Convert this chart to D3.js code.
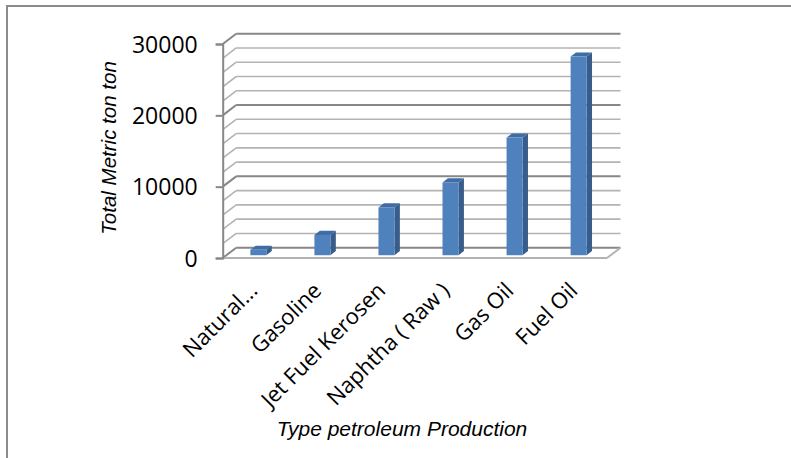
<!DOCTYPE html>
<html>
<head>
<meta charset="utf-8">
<script src="https://cdn.jsdelivr.net/npm/d3@7"></script>
<style>
  html, body { margin: 0; padding: 0; background: #fff; }
  svg { display: block; }
</style>
</head>
<body>
<svg id="chart" width="791" height="458"></svg>
<script>
// Petroleum production by product type (metric tons)
const categories = ["Natural...", "Gasoline", "Jet Fuel Kerosen", "Naphtha ( Raw )", "Gas Oil", "Fuel Oil"];
const values = [750, 2850, 6700, 10200, 16500, 27850];
const yTicks = [0, 10000, 20000, 30000];
const gridStep = 2000;
const yTitle = "Total Metric ton ton";
const xTitle = "Type petroleum Production";

const svg = d3.select("#chart");

// outer chart-area frame
svg.append("rect")
  .attr("x", 7).attr("y", 6).attr("width", 800).attr("height", 470)
  .attr("fill", "none").attr("stroke", "#8c8c8c").attr("stroke-width", 2);

// front plane scales
const x = d3.scaleBand().domain(categories).range([222.7, 607]);
const y = d3.scaleLinear().domain([0, 30000]).range([258, 44]);
// depth vector of the 3-D box (front -> back wall)
const DX = 13.5, DY = -10.3;

const grid = svg.append("g");
const gridVals = d3.range(0, 30000 + 1, gridStep);
const x0 = x.range()[0], x1 = x.range()[1];

// back wall gridlines + diagonals on the side wall
gridVals.forEach(v => {
  const major = v % 10000 === 0;
  const col = major ? "#878787" : "#b3b3b3";
  const w = major ? 2 : 1.6;
  grid.append("line")
    .attr("x1", x0 + DX).attr("x2", x1 + DX)
    .attr("y1", y(v) + DY).attr("y2", y(v) + DY)
    .attr("stroke", col).attr("stroke-width", w);
  grid.append("line")
    .attr("x1", x0).attr("y1", y(v))
    .attr("x2", x0 + DX).attr("y2", y(v) + DY)
    .attr("stroke", col).attr("stroke-width", w);
});

// floor outline: front edge and right diagonal
grid.append("line")
  .attr("x1", x0).attr("x2", x1).attr("y1", y(0)).attr("y2", y(0))
  .attr("stroke", "#b3b3b3").attr("stroke-width", 2);
grid.append("line")
  .attr("x1", x1).attr("y1", y(0)).attr("x2", x1 + DX).attr("y2", y(0) + DY)
  .attr("stroke", "#b3b3b3").attr("stroke-width", 2);

// value axis
const yAxis = d3.axisLeft(y).tickValues(yTicks).tickSize(7).tickPadding(18)
  .tickFormat(d3.format("d"));
const ya = svg.append("g").attr("transform", `translate(${x0},0)`).call(yAxis);
ya.select(".domain").attr("stroke", "#878787").attr("stroke-width", 2);
ya.selectAll(".tick line").attr("stroke", "#878787").attr("stroke-width", 2);
ya.selectAll(".tick text")
  .attr("font-family", "'Open Sans', sans-serif").attr("font-size", 23)
  .attr("fill", "#000").attr("dy", "0.36em");

// 3-D columns
const f = 0.27, depth = 0.4;
const bw = x.bandwidth() * 0.25;
const bars = svg.append("g");
categories.forEach((c, i) => {
  const cx = x(c) + x.bandwidth() / 2 + f * DX;
  const left = cx - bw / 2, right = cx + bw / 2;
  const base = y(0) + f * DY;
  const top = y(values[i]) + f * DY;
  const ddx = depth * DX, ddy = depth * DY;
  // side face
  bars.append("path")
    .attr("d", `M${right},${base}L${right + ddx},${base + ddy}L${right + ddx},${top + ddy}L${right},${top}Z`)
    .attr("fill", "#385d8a");
  // top face
  bars.append("path")
    .attr("d", `M${left},${top}L${left + ddx},${top + ddy}L${right + ddx},${top + ddy}L${right},${top}Z`)
    .attr("fill", "#3f6ca5");
  // front face
  bars.append("rect")
    .attr("x", left).attr("y", top).attr("width", bw).attr("height", base - top)
    .attr("fill", "#4f81bd");
});

// category labels, rotated
svg.append("g").selectAll("text").data(categories).join("text")
  .attr("transform", d => `translate(${x(d) + x.bandwidth() / 2 + 4},${292}) rotate(-45)`)
  .attr("text-anchor", "end")
  .attr("font-family", "'Open Sans', sans-serif").attr("font-size", 22)
  .attr("fill", "#000")
  .text(d => d);

// axis titles
svg.append("text")
  .attr("transform", "translate(116,148) rotate(-90)")
  .attr("text-anchor", "middle")
  .attr("font-family", "'Liberation Sans', Arial, sans-serif")
  .attr("font-style", "italic").attr("font-size", 20.5)
  .attr("fill", "#000").text(yTitle);

svg.append("text")
  .attr("x", 402).attr("y", 436)
  .attr("text-anchor", "middle")
  .attr("font-family", "'Liberation Sans', Arial, sans-serif")
  .attr("font-style", "italic").attr("font-size", 21)
  .attr("fill", "#000").text(xTitle);
</script>
</body>
</html>
